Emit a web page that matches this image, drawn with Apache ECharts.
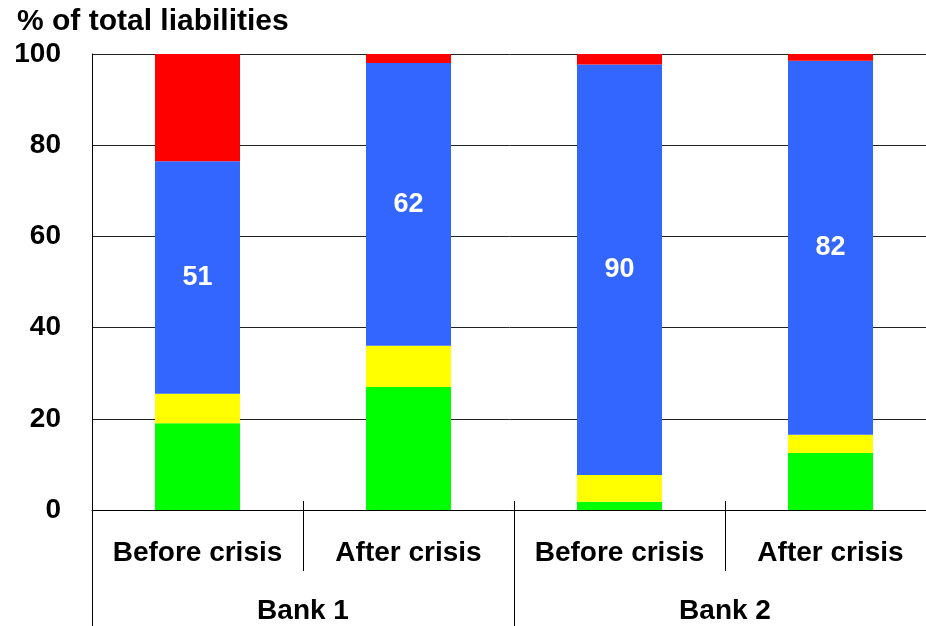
<!DOCTYPE html>
<html>
<head>
<meta charset="utf-8">
<style>
  html, body { margin: 0; padding: 0; background: #fff; }
  #chart { width: 926px; height: 626px; }
</style>
<script src="https://cdn.jsdelivr.net/npm/echarts@6/dist/echarts.min.js"></script>
</head>
<body>
<div id="chart"></div>
<script>
// Liability mix per bank, before and after the crisis (% of total liabilities)
const periods = ['Before crisis', 'After crisis', 'Before crisis', 'After crisis'];
const banks = ['Bank 1', 'Bank 2'];
const yTicks = [0, 20, 40, 60, 80, 100];

const greenPart  = [19, 27, 1.8, 12.5];
const yellowPart = [6.5, 9, 5.9, 4];
const bluePart   = [51, 62, 90, 82];
const redPart    = [23.5, 2, 2.3, 1.5];

const FONT = "'Liberation Sans', Arial, Helvetica, sans-serif";
const chart = echarts.init(document.getElementById('chart'), null, { renderer: 'canvas' });

function stackSeries(name, data, color, withLabel) {
  return {
    name: name,
    type: 'bar',
    stack: 'total',
    xAxisIndex: 0,
    yAxisIndex: 0,
    barWidth: 85,
    data: data,
    itemStyle: { color: color },
    emphasis: { disabled: true },
    label: withLabel ? {
      show: true,
      position: 'inside',
      color: '#fff',
      fontFamily: FONT,
      fontWeight: 'bold',
      fontSize: 27,
      formatter: p => String(p.value)
    } : { show: false }
  };
}

chart.setOption({
  animation: false,
  backgroundColor: '#fff',
  title: {
    text: '% of total liabilities',
    left: 12,
    top: 2,
    textStyle: { fontFamily: FONT, fontWeight: 'bold', fontSize: 30, color: '#000' }
  },
  // the plot runs a little past the right edge of the canvas
  grid: { left: 92, right: -10, top: 54, bottom: 116, containLabel: false, outerBoundsMode: 'none' },
  xAxis: [
    {
      type: 'category',
      data: periods,
      position: 'bottom',
      boundaryGap: true,
      axisLine: { show: true, lineStyle: { color: '#000', width: 1 } },
      axisTick: { show: true, interval: 0, alignWithLabel: false, length: 61, lineStyle: { color: '#000' } },
      axisLabel: { interval: 0, margin: 29, color: '#000', fontFamily: FONT, fontWeight: 'bold', fontSize: 28 },
      splitLine: { show: false }
    },
    {
      type: 'category',
      data: periods,
      position: 'bottom',
      axisLine: { show: false },
      axisTick: { show: true, inside: true, interval: 0, length: 9, lineStyle: { color: '#000' } },
      axisLabel: { show: false },
      splitLine: { show: false }
    },
    {
      type: 'category',
      data: banks,
      position: 'bottom',
      axisLine: { show: false },
      axisTick: { show: true, interval: 0, length: 120, lineStyle: { color: '#000' } },
      axisLabel: { interval: 0, margin: 87, color: '#000', fontFamily: FONT, fontWeight: 'bold', fontSize: 28 },
      splitLine: { show: false }
    }
  ],
  yAxis: {
    type: 'value',
    min: yTicks[0],
    max: yTicks[yTicks.length - 1],
    interval: 20,
    axisLine: { show: true, lineStyle: { color: '#000', width: 1 } },
    axisTick: { show: false },
    axisLabel: { margin: 31, color: '#000', fontFamily: FONT, fontWeight: 'bold', fontSize: 28 },
    splitLine: { show: true, lineStyle: { color: '#222', width: 1 } }
  },
  series: [
    stackSeries('Green', greenPart, '#00ff00', false),
    stackSeries('Yellow', yellowPart, '#ffff00', false),
    stackSeries('Blue', bluePart, '#3366ff', true),
    stackSeries('Red', redPart, '#ff0000', false)
  ]
});
</script>
</body>
</html>
